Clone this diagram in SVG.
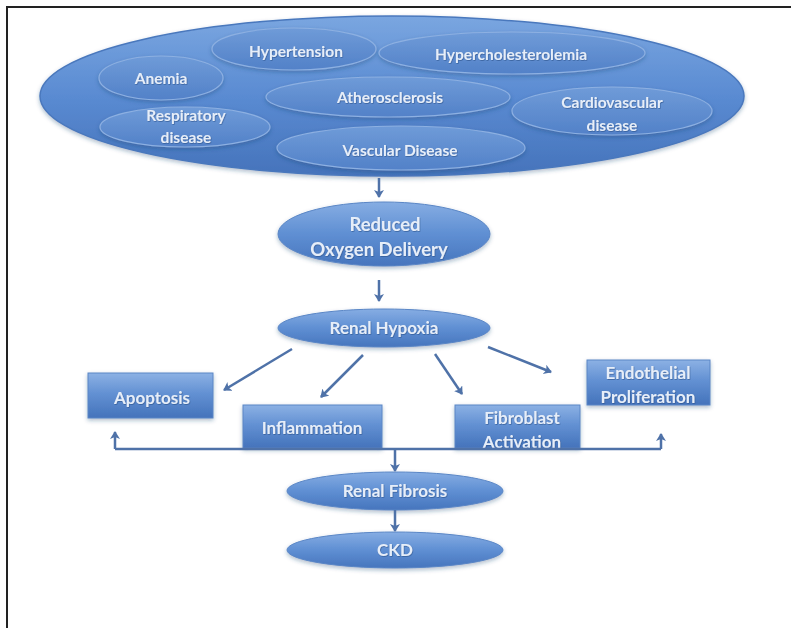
<svg xmlns="http://www.w3.org/2000/svg" width="791" height="628" viewBox="0 0 791 628">
<defs>
<linearGradient id="gBig" x1="0" y1="0" x2="0" y2="1">
<stop offset="0" stop-color="#7aa6e0"/>
<stop offset="0.5" stop-color="#5a8bd2"/>
<stop offset="1" stop-color="#4573bb"/>
</linearGradient>
<linearGradient id="gIn" x1="0" y1="0" x2="0" y2="1">
<stop offset="0" stop-color="#6f9bd8"/>
<stop offset="1" stop-color="#5281c8"/>
</linearGradient>
<linearGradient id="gNode" x1="0" y1="0" x2="0" y2="1">
<stop offset="0" stop-color="#86ade3"/>
<stop offset="0.5" stop-color="#5f8fd3"/>
<stop offset="1" stop-color="#4675bd"/>
</linearGradient>
<linearGradient id="gBox" x1="0" y1="0" x2="0" y2="1">
<stop offset="0" stop-color="#8cb1e4"/>
<stop offset="0.45" stop-color="#6391d3"/>
<stop offset="1" stop-color="#4473bb"/>
</linearGradient>
<filter id="sh" x="-10%" y="-20%" width="120%" height="150%">
<feDropShadow dx="0" dy="2" stdDeviation="2" flood-color="#1f3f70" flood-opacity="0.35"/>
</filter>
<filter id="tsh" x="-10%" y="-30%" width="120%" height="160%">
<feDropShadow dx="0.6" dy="0.8" stdDeviation="0.5" flood-color="#2a4f86" flood-opacity="0.7"/>
</filter>
<marker id="ah" markerWidth="11" markerHeight="11" refX="7" refY="5" orient="auto" markerUnits="userSpaceOnUse">
<path d="M0,0 L8,5 L0,10 L2,5 Z" fill="#4f72a8"/>
</marker>
</defs>
<style>
.frame{stroke:#222;stroke-width:2;fill:none}
.big{fill:url(#gBig);stroke:#4a78bd;stroke-width:1.5;filter:url(#sh)}
.inner{fill:url(#gIn);stroke:#8db0e2;stroke-width:1.2;filter:url(#sh)}
.node{fill:url(#gNode);stroke:#5a86c6;stroke-width:1;filter:url(#sh)}
.box{fill:url(#gBox);stroke:#5a86c6;stroke-width:1;filter:url(#sh)}
.t{font-family:Lato,"Open Sans","Liberation Sans",sans-serif;font-weight:bold;fill:#e6eef9;text-anchor:middle;filter:url(#tsh)}
.s16{font-size:15.5px}
.s17{font-size:17px}
.s19{font-size:18.5px}
.con{stroke:#4f72a8;stroke-width:2.5;fill:none}
.arr{marker-end:url(#ah)}
</style>
<rect x="0" y="0" width="791" height="628" fill="#ffffff"/>
<path class="frame" d="M7,628 L7,7 L791,7"/>

<g id="risk-factors">
<ellipse class="big" cx="392" cy="96" rx="352" ry="80"/>
</g>
<g id="hypertension">
<ellipse class="inner" cx="294" cy="49" rx="82" ry="21"/>
<text class="t s16" x="296" y="57">Hypertension</text>
</g>
<g id="hypercholesterolemia">
<ellipse class="inner" cx="512" cy="53" rx="133" ry="21"/>
<text class="t s16" x="511" y="60">Hypercholesterolemia</text>
</g>
<g id="anemia">
<ellipse class="inner" cx="161" cy="78" rx="62" ry="22"/>
<text class="t s16" x="161" y="84">Anemia</text>
</g>
<g id="atherosclerosis">
<ellipse class="inner" cx="388" cy="97" rx="122" ry="20"/>
<text class="t s16" x="390" y="103">Atherosclerosis</text>
</g>
<g id="cardiovascular-disease">
<ellipse class="inner" cx="612" cy="111" rx="100" ry="24"/>
<text class="t s16" x="612" y="108">Cardiovascular</text>
<text class="t s16" x="612" y="131">disease</text>
</g>
<g id="respiratory-disease">
<ellipse class="inner" cx="185" cy="127" rx="85" ry="20"/>
<text class="t s16" x="186" y="121">Respiratory</text>
<text class="t s16" x="186" y="143">disease</text>
</g>
<g id="vascular-disease">
<ellipse class="inner" cx="401" cy="148" rx="124" ry="22"/>
<text class="t s16" x="400" y="156">Vascular Disease</text>
</g>

<g id="reduced-oxygen-delivery">
<ellipse class="node" cx="384" cy="234" rx="106" ry="32"/>
<text class="t s19" x="385" y="231">Reduced</text>
<text class="t s19" x="379" y="256">Oxygen Delivery</text>
</g>
<g id="renal-hypoxia">
<ellipse class="node" cx="384" cy="328" rx="106" ry="19"/>
<text class="t s17" x="384" y="334">Renal Hypoxia</text>
</g>
<g id="apoptosis">
<rect class="box" x="88" y="373" width="125" height="45"/>
<text class="t s17" x="152" y="404">Apoptosis</text>
</g>
<g id="inflammation">
<rect class="box" x="243" y="405" width="139" height="43"/>
<text class="t s17" x="312" y="434">Inflammation</text>
</g>
<g id="fibroblast-activation">
<rect class="box" x="455" y="405" width="125" height="43"/>
<text class="t s17" x="522" y="424">Fibroblast</text>
<text class="t s17" x="522" y="448">Activation</text>
</g>
<g id="endothelial-proliferation">
<rect class="box" x="587" y="360" width="123" height="45"/>
<text class="t s17" x="648" y="379">Endothelial</text>
<text class="t s17" x="648" y="403">Proliferation</text>
</g>
<g id="renal-fibrosis">
<ellipse class="node" cx="395" cy="491" rx="108" ry="19"/>
<text class="t s17" x="395" y="497">Renal Fibrosis</text>
</g>
<g id="ckd">
<ellipse class="node" cx="395" cy="550" rx="108" ry="18"/>
<text class="t s17" x="395" y="556">CKD</text>
</g>

<g id="connectors">
<line class="con arr" x1="379" y1="178" x2="379" y2="197"/>
<line class="con arr" x1="379" y1="280" x2="379" y2="301"/>
<line class="con arr" x1="292" y1="349" x2="224" y2="390"/>
<line class="con arr" x1="363" y1="355" x2="321" y2="397"/>
<line class="con arr" x1="435" y1="354" x2="462" y2="394"/>
<line class="con arr" x1="488" y1="347" x2="551" y2="372"/>
<line class="con" x1="115" y1="449" x2="661" y2="449"/>
<line class="con arr" x1="115" y1="449" x2="115" y2="432"/>
<line class="con arr" x1="661" y1="449" x2="661" y2="434"/>
<line class="con arr" x1="395" y1="449" x2="395" y2="471"/>
<line class="con arr" x1="395" y1="510" x2="395" y2="531"/>
</g>
</svg>
